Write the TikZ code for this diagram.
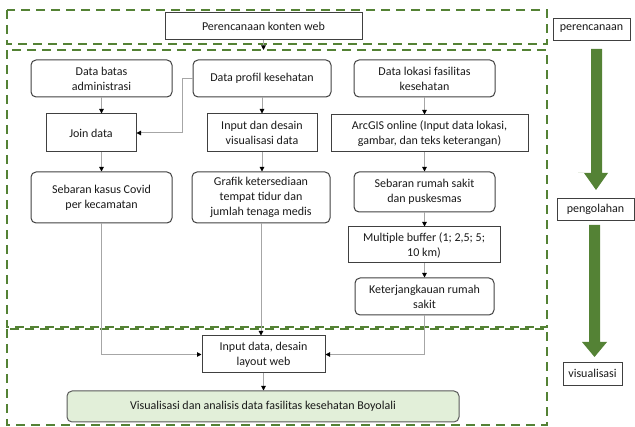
\documentclass[tikz,border=0pt]{standalone}
\usepackage{fontspec}
\setmainfont{Carlito}
\usetikzlibrary{arrows.meta}
\definecolor{dgreen}{HTML}{548235}
\definecolor{lgreen}{HTML}{E2EFD9}
\definecolor{bordr}{HTML}{404040}
\definecolor{conn}{HTML}{A6A6A6}
\tikzset{
  base/.style={draw=bordr, line width=1pt, align=center, inner sep=0pt, font=\fontsize{12}{15}\selectfont, text=black!90},
  sq/.style={base},
  rnd/.style={base, rounded corners=5pt},
  lbl/.style={base, line width=0.9pt},
  region/.style={draw=dgreen, line width=2.4pt, dash pattern=on 9pt off 6pt},
  conn/.style={draw=conn, line width=1pt, -{Triangle[length=4.5pt,width=4.5pt,fill=black,color=black]}},
  bigarrow/.style={fill=dgreen, draw=none}
}
\begin{document}
\begin{tikzpicture}[x=1pt,y=-1pt]
\useasboundingbox (0,0) rectangle (635,427);
% regions
\draw[region] (7,10) rectangle (547,44);
\draw[region] (7,50) rectangle (547,327);
\draw[region] (7,329) rectangle (547,425);

% nodes
\node[sq, minimum width=197, minimum height=27] (pkw) at (263.5,26.5) {Perencanaan konten web};
\node[rnd, minimum width=141, minimum height=37] (dba) at (101.5,78.5) {Data batas\\administrasi};
\node[sq, minimum width=90, minimum height=38] (join) at (91,133) {Join data};
\node[rnd, minimum width=141, minimum height=51] (sk) at (101.5,197.5) {Sebaran kasus Covid\\per kecamatan};
\node[rnd, minimum width=138, minimum height=37] (dpk) at (262,78.5) {Data profil kesehatan};
\node[sq, minimum width=110, minimum height=38] (idv) at (262,133) {Input dan desain\\visualisasi data};
\node[rnd, minimum width=138, minimum height=51] (graf) at (261,197.5) {Grafik ketersediaan\\tempat tidur dan\\jumlah tenaga medis};
\node[rnd, minimum width=141, minimum height=37] (dlk) at (424.5,78.5) {Data lokasi fasilitas\\kesehatan};
\node[sq, minimum width=197, minimum height=37] (arc) at (429.5,133.5) {ArcGIS online (Input data lokasi,\\gambar, dan teks keterangan)};
\node[rnd, minimum width=141, minimum height=40] (srs) at (424.5,192) {Sebaran rumah sakit\\dan puskesmas};
\node[sq, minimum width=152, minimum height=36] (mb) at (424,245) {Multiple buffer (1; 2,5; 5;\\10 km)};
\node[rnd, minimum width=139, minimum height=37] (kr) at (424.5,296.5) {Keterjangkauan rumah\\sakit};
\node[sq, minimum width=123, minimum height=37] (idl) at (263.5,354.5) {Input data, desain\\layout web};
\node[rnd, fill=lgreen, draw=black!65, minimum width=392, minimum height=31] (fin) at (263,406.5) {Visualisasi dan analisis data fasilitas kesehatan Boyolali};

% right labels
\node[lbl, minimum width=77, minimum height=22] (lp) at (591.5,29) {perencanaan};
\node[lbl, minimum width=77, minimum height=22] (lo) at (595.5,209) {pengolahan};
\node[lbl, minimum width=59, minimum height=23] (lv) at (592.5,373.5) {visualisasi};

% big arrows
\fill[bigarrow] (591,49) -- (602,49) -- (602,173) -- (608,173) -- (596,190) -- (584,173) -- (578,173) -- (591,173) -- cycle;
\fill[bigarrow] (589,225) -- (600,225) -- (600,342) -- (607,342) -- (594.5,357) -- (582,342) -- (589,342) -- cycle;

% connectors
\coordinate (pkwend) at (263.5,50);
\draw[conn] (pkw.south) -- (pkwend);
\draw[conn] (dba.south) -- (dba.south |- join.north);
\draw[conn] (dpk.west) -- ++(-10,0) |- (join.east);
\draw[conn] (dba.south |- join.south) -- (dba.south |- sk.north);
\draw[conn] (dpk.south) -- (idv.north);
\draw[conn] (idv.south) -- (idv.south |- graf.north);
\draw[conn] (dlk.south) -- (dlk.south |- arc.north);
\draw[conn] (dlk.south |- arc.south) -- (srs.north);
\draw[conn] (srs.south) -- (srs.south |- mb.north);
\draw[conn] (srs.south |- mb.south) -- (kr.north);
\draw[conn] (sk.south) |- (idl.west);
\draw[conn] (graf.south) -- (graf.south |- idl.north);
\draw[conn] (kr.south) |- (idl.east);
\draw[conn] (idl.south) -- (idl.south |- fin.north);
\end{tikzpicture}
\end{document}
